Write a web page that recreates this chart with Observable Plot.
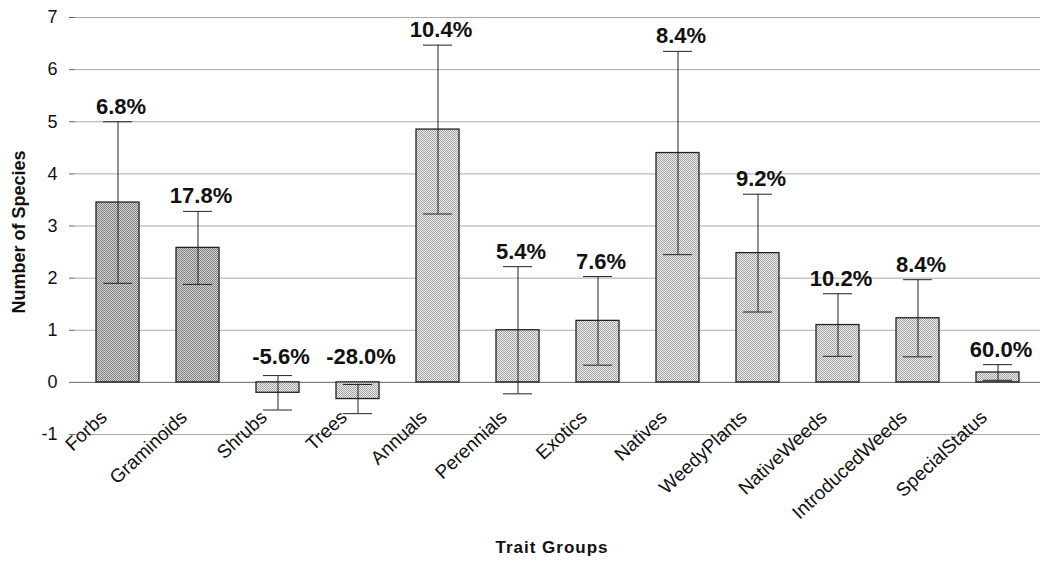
<!DOCTYPE html>
<html>
<head>
<meta charset="utf-8">
<script src="https://cdn.jsdelivr.net/npm/d3@7"></script>
<script src="https://cdn.jsdelivr.net/npm/@observablehq/plot@0.6"></script>
<style>
  html, body { margin: 0; padding: 0; background: #fff; }
  #chart { width: 1043px; height: 561px; position: relative; }
</style>
</head>
<body>
<div id="chart"></div>
<script>
const categories = ["Forbs", "Graminoids", "Shrubs", "Trees", "Annuals", "Perennials", "Exotics", "Natives", "WeedyPlants", "NativeWeeds", "IntroducedWeeds", "SpecialStatus"];
const means = [3.45, 2.58, -0.2, -0.32, 4.85, 1.0, 1.18, 4.4, 2.48, 1.1, 1.23, 0.19];
const errors = [1.55, 0.7, 0.33, 0.28, 1.62, 1.22, 0.85, 1.95, 1.13, 0.6, 0.74, 0.15];
const pctLabels = ["6.8%", "17.8%", "-5.6%", "-28.0%", "10.4%", "5.4%", "7.6%", "8.4%", "9.2%", "10.2%", "8.4%", "60.0%"];
const groupShade = ["dark", "dark", "light", "light", "light", "light", "light", "light", "light", "light", "light", "light"];
const yTicks = [-1, 0, 1, 2, 3, 4, 5, 6, 7];

const data = categories.map((c, i) => ({
  cat: c, mean: means[i], err: errors[i], label: pctLabels[i], shade: groupShade[i],
  lo: means[i] - errors[i], hi: means[i] + errors[i]
}));

const font = "'Liberation Sans', Arial, sans-serif";

const chart = Plot.plot({
  width: 1043,
  height: 561,
  marginLeft: 75,
  marginRight: 3,
  marginTop: 17,
  marginBottom: 127,
  style: { fontFamily: font, background: "#fff", color: "#111" },
  x: { domain: categories, paddingInner: 0.46, paddingOuter: 0.23, axis: null },
  y: { domain: [-1, 7], ticks: yTicks, label: null },
  color: { domain: ["dark", "light"], range: ["url(#stippleDark)", "url(#stippleLight)"] },
  marks: [
    Plot.gridY(yTicks, { stroke: "#a8a8a8", strokeOpacity: 1, strokeWidth: 1 }),
    Plot.axisY(yTicks, { tickSize: 6, tickPadding: 12, fontSize: 18, label: null, stroke: "#666",
      tickFormat: d => String(d) }),
    Plot.ruleX([0], { frameAnchor: "left", stroke: "#555" }),
    Plot.ruleY([0], { stroke: "#777" }),
    Plot.barY(data, { x: "cat", y1: 0, y2: "mean", fill: "shade", stroke: "#222", strokeWidth: 1.3 }),
    Plot.ruleX(data, { x: "cat", y1: "lo", y2: "hi", stroke: "#222", strokeWidth: 1 }),
    Plot.tickY(data, { x: "cat", y: "hi", stroke: "#222", insetLeft: 36, insetRight: 36 }),
    Plot.tickY(data, { x: "cat", y: "lo", stroke: "#222", insetLeft: 36, insetRight: 36 }),
    Plot.text(data, { x: "cat", y: d => Math.max(d.hi, 0.2), text: "label", dx: 3, dy: -8, lineAnchor: "bottom",
      fontSize: 22, fontWeight: "bold", fill: "#111" }),
    Plot.text(data, { x: "cat", y: 0, text: "cat", rotate: -43, textAnchor: "end", lineAnchor: "middle",
      dx: -14, dy: 32, fontSize: 19, fill: "#111" })
  ]
});

// stipple patterns used as bar fills
const defs = d3.select(chart).insert("defs", ":first-child");
function stipple(id, dark, light) {
  const p = defs.append("pattern").attr("id", id).attr("width", 2).attr("height", 2)
    .attr("patternUnits", "userSpaceOnUse");
  p.append("rect").attr("width", 2).attr("height", 2).attr("fill", light);
  p.append("rect").attr("width", 1).attr("height", 1).attr("fill", dark);
  p.append("rect").attr("x", 1).attr("y", 1).attr("width", 1).attr("height", 1).attr("fill", dark);
}
stipple("stippleDark", "#7e7e7e", "#d6d6d6");
stipple("stippleLight", "#a4a4a4", "#ececec");

const wrap = document.getElementById("chart");
wrap.appendChild(chart);

const yTitle = document.createElement("div");
yTitle.textContent = "Number of Species";
Object.assign(yTitle.style, {
  position: "absolute", left: "19px", top: "232px", transform: "translate(-50%, -50%) rotate(-90deg)",
  fontFamily: font, fontWeight: "bold", fontSize: "18px", color: "#111", whiteSpace: "nowrap"
});
wrap.appendChild(yTitle);

const xTitle = document.createElement("div");
xTitle.textContent = "Trait Groups";
Object.assign(xTitle.style, {
  position: "absolute", left: "552px", top: "548px", transform: "translate(-50%, -50%)",
  fontFamily: font, fontWeight: "bold", fontSize: "17px", letterSpacing: "1px", color: "#111", whiteSpace: "nowrap"
});
wrap.appendChild(xTitle);
</script>
</body>
</html>
